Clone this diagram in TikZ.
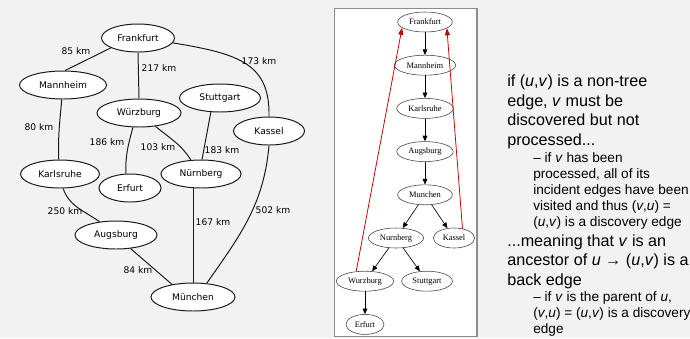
\documentclass[tikz,border=0pt]{standalone}
\usepackage{fontspec}
\usetikzlibrary{arrows.meta,positioning,shapes.geometric}
\newfontfamily\cityfont{DejaVu Sans}
\newfontfamily\treefont{Liberation Serif}
\newfontfamily\notefont{Liberation Sans}
\definecolor{slidegray}{HTML}{F2F2F2}
\definecolor{framegray}{HTML}{8C8C8C}
\definecolor{backred}{HTML}{CC0000}

\begin{document}
\begin{tikzpicture}[node distance=1.08cm]
		\tikzstyle{city} = [ellipse, draw=black!90, fill=white, line width=0.7pt, 
		minimum height=0.7cm, inner sep=0pt, font=\cityfont\fontsize{6.5}{8}\selectfont]
		\tikzstyle{road} = [line width=0.7pt, draw=black!90]
		\tikzstyle{dist} = [inner sep=0pt, font=\cityfont\fontsize{6.5}{8}\selectfont]
		\tikzstyle{visit} = [ellipse, draw=black!75, fill=white, line width=0.4pt, 
		minimum height=0.5cm, inner xsep=0.085cm, inner ysep=0pt, font=\treefont\fontsize{6}{7}\selectfont]
		\tikzstyle{arrow} = [line width=0.45pt,->,>={Triangle[length=4pt,width=3.4pt]}]
		\tikzstyle{bigNote} = [anchor=north west, align=left, inner sep=0pt, 
		font=\notefont\fontsize{11.5}{13.8}\selectfont]
		\tikzstyle{smallNote} = [anchor=north west, align=left, inner sep=0pt, 
		font=\notefont\fontsize{9.7}{11.35}\selectfont]
		\useasboundingbox (0,0) rectangle (17.25,-8.45);
		\fill [slidegray] (0,0) rectangle (17.25,-8.45);
		\draw [framegray, fill=white, line width=1pt] (8.36,-0.21) rectangle (11.92,-8.41);
		% road map
		\node (frankfurt) [city, minimum width=1.825cm] at (3.45,-0.95) {Frankfurt};
		\node (mannheim) [city, minimum width=2.175cm] at (1.575,-2.125) {Mannheim};
		\node (wuerzburg) [city, minimum width=2.1cm] at (3.475,-2.825) {Würzburg};
		\node (stuttgart) [city, minimum width=2.025cm] at (5.5,-2.45) {Stuttgart};
		\node (kassel) [city, minimum width=1.775cm] at (6.725,-3.275) {Kassel};
		\node (karlsruhe) [city, minimum width=1.975cm] at (1.5,-4.35) {Karlsruhe};
		\node (erfurt) [city, minimum width=1.55cm] at (3.25,-4.7) {Erfurt};
		\node (nuernberg) [city, minimum width=2cm] at (5.025,-4.35) {Nürnberg};
		\node (augsburg) [city, minimum width=2.05cm] at (2.9,-5.875) {Augsburg};
		\node (muenchen) [city, minimum width=2.1cm] at (4.825,-7.425) {München};
		\draw [road] (frankfurt.200) -- (mannheim.82);
		\draw [road] (frankfurt.south) -- (wuerzburg.north);
		\draw [road] (frankfurt.352) .. controls +(1.7,-0.275) and +(0.025,1.3) .. (kassel.north);
		\draw [road] (mannheim.265) to[out=-95,in=92] (karlsruhe.95);
		\draw [road] (wuerzburg.247) to[out=-105,in=92] (erfurt.106);
		\draw [road] (wuerzburg.321) to[out=-40,in=122] (nuernberg.126);
		\draw [road] (stuttgart.237) -- (nuernberg.86);
		\draw [road] (kassel.south) to[out=-95,in=55] (muenchen.45);
		\draw [road] (muenchen.north) -- (muenchen.north |- nuernberg.south);
		\draw [road] (karlsruhe.282) to[out=-70,in=145] (augsburg.141);
		\draw [road] (augsburg.317) -- (muenchen.149);
		\node (dist85) [dist] at (1.9,-1.275) {85 km};
		\node (dist217) [dist] at (3.975,-1.7) {217 km};
		\node (dist173) [dist] at (6.475,-1.525) {173 km};
		\node (dist80) [dist] at (0.975,-3.175) {80 km};
		\node (dist186) [dist] at (2.675,-3.55) {186 km};
		\node (dist103) [dist] at (3.95,-3.675) {103 km};
		\node (dist183) [dist] at (5.55,-3.75) {183 km};
		\node (dist502) [dist] at (6.825,-5.25) {502 km};
		\node (dist167) [dist] at (5.325,-5.55) {167 km};
		\node (dist250) [dist] at (1.625,-5.275) {250 km};
		\node (dist84) [dist] at (3.45,-6.75) {84 km};
		% dfs tree
		\node (frankfurtTree) [visit] at (10.625,-0.55) {Frankfurt};
		\node (mannheimTree) [visit, below of=frankfurtTree] {Mannheim};
		\node (karlsruheTree) [visit, below of=mannheimTree] {Karlsruhe};
		\node (augsburgTree) [visit, below of=karlsruheTree] {Augsburg};
		\node (muenchenTree) [visit, below of=augsburgTree] {Munchen};
		\node (nuernbergTree) [visit, below of=muenchenTree, xshift=-0.725cm] {Nurnberg};
		\node (kasselTree) [visit, below of=muenchenTree, xshift=0.725cm] {Kassel};
		\node (wuerzburgTree) [visit, below of=nuernbergTree, xshift=-0.775cm] {Wurzburg};
		\node (stuttgartTree) [visit, below of=nuernbergTree, xshift=0.775cm] {Stuttgart};
		\node (erfurtTree) [visit, below of=wuerzburgTree] {Erfurt};
		\draw [arrow] (frankfurtTree) -- (mannheimTree);
		\draw [arrow] (mannheimTree) -- (karlsruheTree);
		\draw [arrow] (karlsruheTree) -- (augsburgTree);
		\draw [arrow] (augsburgTree) -- (muenchenTree);
		\draw [arrow] (muenchenTree) -- (nuernbergTree);
		\draw [arrow] (muenchenTree) -- (kasselTree);
		\draw [arrow] (nuernbergTree) -- (wuerzburgTree);
		\draw [arrow] (nuernbergTree) -- (stuttgartTree);
		\draw [arrow] (wuerzburgTree) -- (erfurtTree);
		\draw [arrow, backred, line width=0.55pt, >={Triangle[length=5pt,width=3.6pt]}] (wuerzburgTree.132) -- (frankfurtTree.194);
		\draw [arrow, backred, line width=0.55pt, >={Triangle[length=5pt,width=3.6pt]}] (kasselTree.48) -- (frankfurtTree.344);
		% notes
		\node (noteIntro) [bigNote] at (12.675,-1.87) {if (\textit{u},\textit{v}) is a non-tree\\ 
		edge, \textit{v} must be\\ discovered but not\\ processed...};
		\node (noteProcessed) [smallNote] at (13.325,-3.81) {– if \textit{v} has been\\ 
		processed, all of its\\ incident edges have been\\ visited and thus (\textit{v},\textit{u}) =\\ 
		(\textit{u},\textit{v}) is a discovery edge};
		\node (noteAncestor) [bigNote] at (12.675,-5.855) {...meaning that \textit{v} is an\\ 
		ancestor of \textit{u} → (\textit{u},\textit{v}) is a\\ back edge};
		\node (noteParent) [smallNote] at (13.325,-7.29) {– if \textit{v} is the parent of \textit{u},\\ 
		(\textit{v},\textit{u}) = (\textit{u},\textit{v}) is a discovery\\ edge};
		\end{tikzpicture}
\end{document}
